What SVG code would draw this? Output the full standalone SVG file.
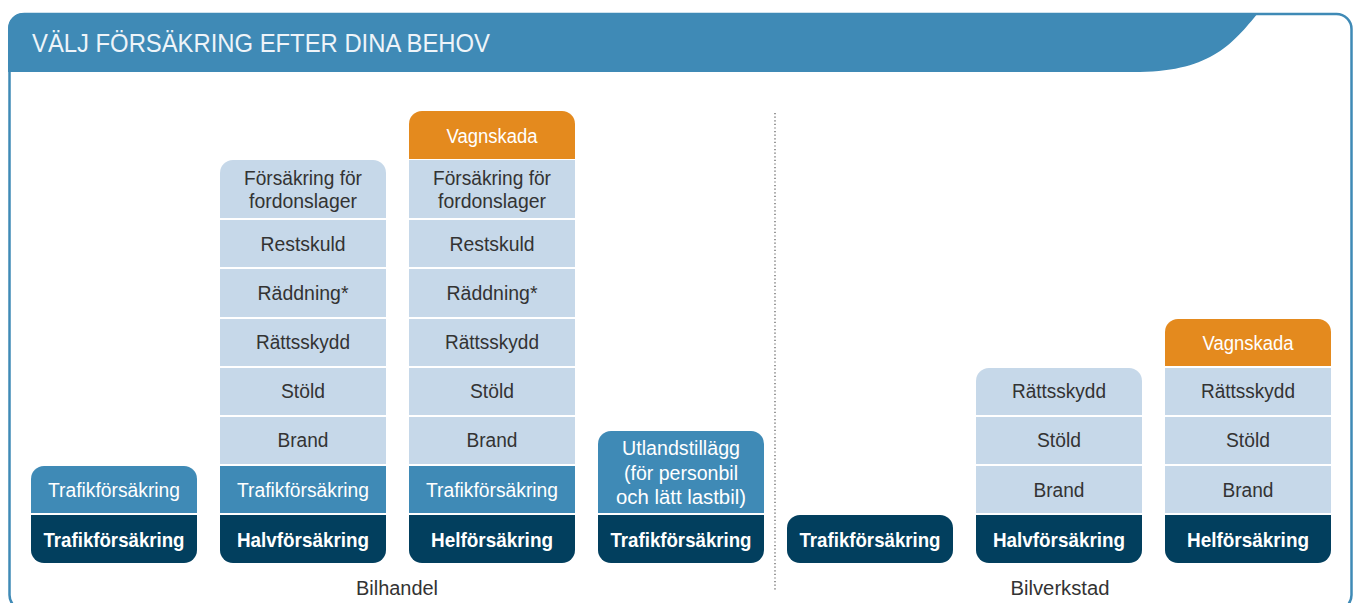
<svg xmlns="http://www.w3.org/2000/svg" width="1356" height="603" viewBox="0 0 1356 603">
<style>
.t{font-family:"Liberation Sans",Arial,sans-serif;font-size:20px;text-anchor:middle}
.dk{fill:#333333}
.wh{fill:#ffffff}
.b{font-weight:bold;font-size:21px;fill:#ffffff}
.lb{fill:#c6d8e9}
.mb{fill:#3f8ab6}
.nv{fill:#023f5e}
.or{fill:#e48a1e}
</style>
<rect width="1356" height="603" fill="#ffffff"/>
<g id="frame">
<rect x="9.5" y="14" width="1342" height="596" rx="15" fill="none" stroke="#3f8ab6" stroke-width="2.5"/>
<path d="M8 72 V28 A15 15 0 0 1 23 13 H1258 C1234 42 1212 71 1140 72 Z" fill="#3f8ab6"/>
<text x="32" y="52" font-family="Liberation Sans,Arial,sans-serif" font-size="25" fill="#eef4f9" textLength="458" lengthAdjust="spacingAndGlyphs">VÄLJ FÖRSÄKRING EFTER DINA BEHOV</text>
</g>
<g id="connectors">
<line x1="775" y1="113" x2="775" y2="590" stroke="#555" stroke-width="1.2" stroke-dasharray="1.2 2.4"/>
</g>
<g id="col1">
<path class="mb" d="M31 513 V479 A13 13 0 0 1 44 466 H184 A13 13 0 0 1 197 479 V513 Z"/>
<path class="nv" d="M31 515 H197 V550 A13 13 0 0 1 184 563 H44 A13 13 0 0 1 31 550 Z"/>
<text class="t wh" x="114" y="497" textLength="132" lengthAdjust="spacingAndGlyphs">Trafikförsäkring</text>
<text class="t b" x="114" y="547" textLength="141" lengthAdjust="spacingAndGlyphs">Trafikförsäkring</text>
</g>
<g id="col2">
<path class="lb" d="M220 218 V173 A13 13 0 0 1 233 160 H373 A13 13 0 0 1 386 173 V218 Z"/>
<rect class="lb" x="220" y="220" width="166" height="47"/>
<rect class="lb" x="220" y="269" width="166" height="48"/>
<rect class="lb" x="220" y="319" width="166" height="47"/>
<rect class="lb" x="220" y="368" width="166" height="47"/>
<rect class="lb" x="220" y="417" width="166" height="47"/>
<rect class="mb" x="220" y="466" width="166" height="47"/>
<path class="nv" d="M220 515 H386 V550 A13 13 0 0 1 373 563 H233 A13 13 0 0 1 220 550 Z"/>
<text class="t dk" x="303" y="185" textLength="118" lengthAdjust="spacingAndGlyphs">Försäkring för</text>
<text class="t dk" x="303" y="208" textLength="108" lengthAdjust="spacingAndGlyphs">fordonslager</text>
<text class="t dk" x="303" y="251" textLength="85" lengthAdjust="spacingAndGlyphs">Restskuld</text>
<text class="t dk" x="303" y="300" textLength="91" lengthAdjust="spacingAndGlyphs">Räddning*</text>
<text class="t dk" x="303" y="349" textLength="94" lengthAdjust="spacingAndGlyphs">Rättsskydd</text>
<text class="t dk" x="303" y="398" textLength="44" lengthAdjust="spacingAndGlyphs">Stöld</text>
<text class="t dk" x="303" y="447" textLength="51" lengthAdjust="spacingAndGlyphs">Brand</text>
<text class="t wh" x="303" y="497" textLength="132" lengthAdjust="spacingAndGlyphs">Trafikförsäkring</text>
<text class="t b" x="303" y="547" textLength="132" lengthAdjust="spacingAndGlyphs">Halvförsäkring</text>
</g>
<g id="col3">
<path class="or" d="M409 159 V124 A13 13 0 0 1 422 111 H562 A13 13 0 0 1 575 124 V159 Z"/>
<rect class="lb" x="409" y="160" width="166" height="58"/>
<rect class="lb" x="409" y="220" width="166" height="47"/>
<rect class="lb" x="409" y="269" width="166" height="48"/>
<rect class="lb" x="409" y="319" width="166" height="47"/>
<rect class="lb" x="409" y="368" width="166" height="47"/>
<rect class="lb" x="409" y="417" width="166" height="47"/>
<rect class="mb" x="409" y="466" width="166" height="47"/>
<path class="nv" d="M409 515 H575 V550 A13 13 0 0 1 562 563 H422 A13 13 0 0 1 409 550 Z"/>
<text class="t wh" x="492" y="143" textLength="91" lengthAdjust="spacingAndGlyphs">Vagnskada</text>
<text class="t dk" x="492" y="185" textLength="118" lengthAdjust="spacingAndGlyphs">Försäkring för</text>
<text class="t dk" x="492" y="208" textLength="108" lengthAdjust="spacingAndGlyphs">fordonslager</text>
<text class="t dk" x="492" y="251" textLength="85" lengthAdjust="spacingAndGlyphs">Restskuld</text>
<text class="t dk" x="492" y="300" textLength="91" lengthAdjust="spacingAndGlyphs">Räddning*</text>
<text class="t dk" x="492" y="349" textLength="94" lengthAdjust="spacingAndGlyphs">Rättsskydd</text>
<text class="t dk" x="492" y="398" textLength="44" lengthAdjust="spacingAndGlyphs">Stöld</text>
<text class="t dk" x="492" y="447" textLength="51" lengthAdjust="spacingAndGlyphs">Brand</text>
<text class="t wh" x="492" y="497" textLength="132" lengthAdjust="spacingAndGlyphs">Trafikförsäkring</text>
<text class="t b" x="492" y="547" textLength="122" lengthAdjust="spacingAndGlyphs">Helförsäkring</text>
</g>
<g id="col4">
<path class="mb" d="M598 513 V444 A13 13 0 0 1 611 431 H751 A13 13 0 0 1 764 444 V513 Z"/>
<path class="nv" d="M598 515 H764 V550 A13 13 0 0 1 751 563 H611 A13 13 0 0 1 598 550 Z"/>
<text class="t wh" x="681" y="455" textLength="118" lengthAdjust="spacingAndGlyphs">Utlandstillägg</text>
<text class="t wh" x="681" y="480" textLength="114" lengthAdjust="spacingAndGlyphs">(för personbil</text>
<text class="t wh" x="681" y="504" textLength="130" lengthAdjust="spacingAndGlyphs">och lätt lastbil)</text>
<text class="t b" x="681" y="547" textLength="141" lengthAdjust="spacingAndGlyphs">Trafikförsäkring</text>
</g>
<g id="col5">
<rect class="nv" x="787" y="515" width="166" height="48" rx="13"/>
<text class="t b" x="870" y="547" textLength="141" lengthAdjust="spacingAndGlyphs">Trafikförsäkring</text>
</g>
<g id="col6">
<path class="lb" d="M976 415 V381 A13 13 0 0 1 989 368 H1129 A13 13 0 0 1 1142 381 V415 Z"/>
<rect class="lb" x="976" y="417" width="166" height="47"/>
<rect class="lb" x="976" y="466" width="166" height="47"/>
<path class="nv" d="M976 515 H1142 V550 A13 13 0 0 1 1129 563 H989 A13 13 0 0 1 976 550 Z"/>
<text class="t dk" x="1059" y="398" textLength="94" lengthAdjust="spacingAndGlyphs">Rättsskydd</text>
<text class="t dk" x="1059" y="447" textLength="44" lengthAdjust="spacingAndGlyphs">Stöld</text>
<text class="t dk" x="1059" y="497" textLength="51" lengthAdjust="spacingAndGlyphs">Brand</text>
<text class="t b" x="1059" y="547" textLength="132" lengthAdjust="spacingAndGlyphs">Halvförsäkring</text>
</g>
<g id="col7">
<path class="or" d="M1165 366 V332 A13 13 0 0 1 1178 319 H1318 A13 13 0 0 1 1331 332 V366 Z"/>
<rect class="lb" x="1165" y="368" width="166" height="47"/>
<rect class="lb" x="1165" y="417" width="166" height="47"/>
<rect class="lb" x="1165" y="466" width="166" height="47"/>
<path class="nv" d="M1165 515 H1331 V550 A13 13 0 0 1 1318 563 H1178 A13 13 0 0 1 1165 550 Z"/>
<text class="t wh" x="1248" y="350" textLength="91" lengthAdjust="spacingAndGlyphs">Vagnskada</text>
<text class="t dk" x="1248" y="398" textLength="94" lengthAdjust="spacingAndGlyphs">Rättsskydd</text>
<text class="t dk" x="1248" y="447" textLength="44" lengthAdjust="spacingAndGlyphs">Stöld</text>
<text class="t dk" x="1248" y="497" textLength="51" lengthAdjust="spacingAndGlyphs">Brand</text>
<text class="t b" x="1248" y="547" textLength="122" lengthAdjust="spacingAndGlyphs">Helförsäkring</text>
</g>
<g id="labels">
<text class="t dk" x="397" y="595" textLength="82" lengthAdjust="spacingAndGlyphs">Bilhandel</text>
<text class="t dk" x="1060" y="595" textLength="99" lengthAdjust="spacingAndGlyphs">Bilverkstad</text>
</g>
</svg>
